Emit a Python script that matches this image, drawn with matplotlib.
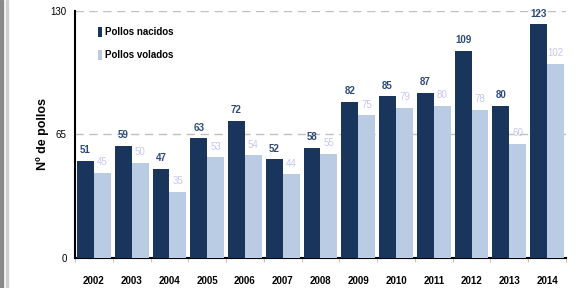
import numpy as np
import matplotlib
matplotlib.use('Agg')
import matplotlib.pyplot as plt
from matplotlib.patches import Rectangle

years = ['2002', '2003', '2004', '2005', '2006', '2007', '2008',
         '2009', '2010', '2011', '2012', '2013', '2014']
nacidos = [51, 59, 47, 63, 72, 52, 58, 82, 85, 87, 109, 80, 123]
volados = [45, 50, 35, 53, 54, 44, 55, 75, 79, 80, 78, 60, 102]

dark = '#1a355c'
light = '#b9cce4'
dark_txt = '#2c4a78'
light_txt = '#c6c6f4'

plt.rcParams['font.family'] = ['Liberation Sans', 'DejaVu Sans']

fig = plt.figure(figsize=(5.79, 2.88), dpi=100)
ax = fig.add_axes([0.1295, 0.104, 0.848, 0.858])

# page border strips on the left
fig.patches.append(Rectangle((0, 0), 3 / 579, 1, transform=fig.transFigure,
                             color='#8a8a8a', zorder=0))
fig.patches.append(Rectangle((6 / 579, 0), 2 / 579, 1, transform=fig.transFigure,
                             color='#cfcfcf', zorder=0))

x = np.arange(len(years))
w = 0.447
ax.bar(x - w / 2, nacidos, w, color=dark, edgecolor='none', label='Pollos nacidos', zorder=3)
ax.bar(x + w / 2, volados, w, color=light, edgecolor='none', label='Pollos volados', zorder=3)

for i in range(len(years)):
    ax.text(x[i] - w / 2, nacidos[i] + 3, str(nacidos[i]), ha='center', va='bottom',
            fontsize=7, fontweight='bold', color=dark_txt)
    ax.text(x[i] + w / 2, volados[i] + 3, str(volados[i]), ha='center', va='bottom',
            fontsize=7, color=light_txt)

ax.set_xlim(-0.5, len(years) - 0.5)
ax.set_ylim(0, 130)
ax.set_yticks([0, 65, 130])
ax.set_yticklabels(['0', '65', '130'], fontsize=7)
ax.set_xticks(x)
ax.set_xticklabels(years, fontsize=7, fontweight='bold')
ax.tick_params(axis='y', length=0, pad=6)
ax.set_xticks(np.arange(len(years) + 1) - 0.5, minor=True)
ax.tick_params(axis='x', which='minor', length=3, color='#bbbbbb')
ax.tick_params(axis='x', which='major', length=0, pad=13)

for yv in [65, 130]:
    ax.axhline(yv, color='#c0c0c0', lw=1, ls=(0, (6, 4)), zorder=1)

for s in ['top', 'right']:
    ax.spines[s].set_visible(False)
ax.spines['left'].set_linewidth(1.5)
ax.spines['bottom'].set_linewidth(1.5)

ax.set_ylabel('Nº de pollos', fontsize=9, fontweight='bold', labelpad=1)

leg = ax.legend(loc='upper left', bbox_to_anchor=(0.03, 0.97), frameon=False,
                handlelength=0.35, handleheight=1.2, handletextpad=0.3,
                labelspacing=1.3, prop={'weight': 'bold', 'size': 7})

fig.savefig('out.png', dpi=100)
